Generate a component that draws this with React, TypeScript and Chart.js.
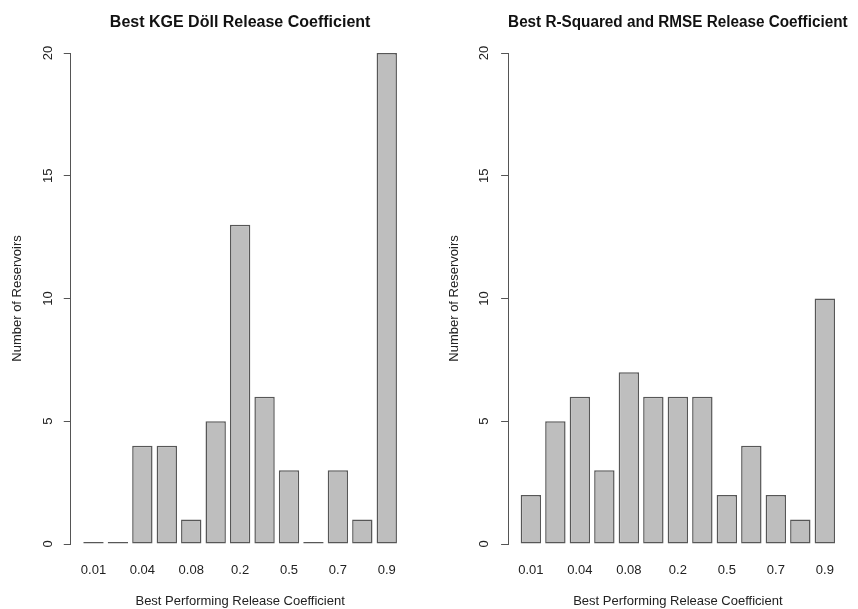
import React, { useEffect, useRef } from 'react';
import Chart from 'chart.js/auto';

// ---- Data ----
const categories = ['0.01', '0.02', '0.04', '0.06', '0.08', '0.1', '0.2', '0.3', '0.5', '0.6', '0.7', '0.8', '0.9'];
const kgeCounts = [0, 0, 4, 4, 1, 5, 13, 6, 3, 0, 3, 1, 20];
const r2RmseCounts = [2, 5, 6, 3, 7, 6, 6, 6, 2, 4, 2, 1, 10];
const yTickValues = [0, 5, 10, 15, 20];
const xLabelIndices = [0, 2, 4, 6, 8, 10, 12];
const panelTitles = ['Best KGE Döll Release Coefficient', 'Best R-Squared and RMSE Release Coefficient'];
const xAxisTitle = 'Best Performing Release Coefficient';
const yAxisTitle = 'Number of Reservoirs';

const FONT = 'Liberation Sans, Arial, Helvetica, sans-serif';
const TEXT = '#222';

type PanelLayout = { axisW: number; padRight: number; tickPad: number; titlePad: number };

const layouts: PanelLayout[] = [
  { axisW: 70.75, padRight: 19.5, tickPad: 8.5, titlePad: 9.2 },
  { axisW: 79.1, padRight: 10.4, tickPad: 9.9, titlePad: 17.7 },
];

function Panel({ values, title, lay, left }: { values: number[]; title: string; lay: PanelLayout; left: number }) {
  const ref = useRef<HTMLCanvasElement | null>(null);
  useEffect(() => {
    if (!ref.current) return;
    const font = { family: FONT, size: 13 };
    const chart = new Chart(ref.current, {
      type: 'bar',
      data: {
        datasets: [
          {
            data: values.map((v, i) => ({ x: i, y: v })) as any,
            backgroundColor: '#bebebe',
            borderColor: '#575757',
            borderWidth: 1.5,
            borderSkipped: false,
            categoryPercentage: 1,
            barPercentage: 1 / 1.2,
            minBarLength: 2,
          },
        ],
      },
      options: {
        animation: false,
        responsive: false,
        maintainAspectRatio: false,
        devicePixelRatio: 1,
        layout: { padding: { left: 0, right: lay.padRight, top: 0, bottom: 0 } },
        plugins: {
          legend: { display: false },
          tooltip: { enabled: false },
          title: {
            display: true,
            text: title,
            fullSize: false,
            color: '#111',
            font: { family: FONT, size: 16, weight: 'bold' },
            padding: { top: 12.9, bottom: 20.9 },
          },
        },
        scales: {
          x: {
            type: 'linear',
            position: 'bottom',
            offset: false,
            min: -0.93,
            max: 12.93,
            grid: { display: false, drawTicks: false, offset: false },
            border: { display: false },
            afterBuildTicks: (s: any) => {
              s.ticks = xLabelIndices.map((v) => ({ value: v }));
            },
            ticks: {
              autoSkip: false,
              minRotation: 0,
              maxRotation: 0,
              padding: 19,
              color: TEXT,
              font,
              callback: (v: any) => categories[v as number],
            },
            title: { display: true, text: xAxisTitle, color: TEXT, font, padding: { top: 0, bottom: 0 } },
            afterFit: (s: any) => {
              s.height = 65;
            },
          },
          y: {
            min: 0,
            max: 20,
            afterBuildTicks: (s: any) => {
              s.ticks = yTickValues.map((v) => ({ value: v }));
            },
            grid: { drawOnChartArea: false, drawTicks: true, tickLength: 7, color: '#555' },
            border: { display: true, color: '#555' },
            ticks: {
              minRotation: 90,
              maxRotation: 90,
              crossAlign: 'center',
              padding: lay.tickPad,
              color: TEXT,
              font,
            },
            title: { display: true, text: yAxisTitle, color: TEXT, font, padding: { top: lay.titlePad, bottom: 0 } },
            afterFit: (s: any) => {
              s.width = lay.axisW;
            },
          },
        },
      } as any,
    });
    return () => chart.destroy();
  }, [values, title, lay]);
  return (
    <canvas
      ref={ref}
      width={429}
      height={609}
      style={{ position: 'absolute', left, top: 0, width: 429, height: 609, display: 'block' }}
    />
  );
}

export default function App() {
  return (
    <div style={{ position: 'absolute', left: 0, top: 0, width: 858, height: 609, background: '#fff', overflow: 'hidden' }}>
      <Panel values={kgeCounts} title={panelTitles[0]} lay={layouts[0]} left={0} />
      <Panel values={r2RmseCounts} title={panelTitles[1]} lay={layouts[1]} left={429} />
    </div>
  );
}
